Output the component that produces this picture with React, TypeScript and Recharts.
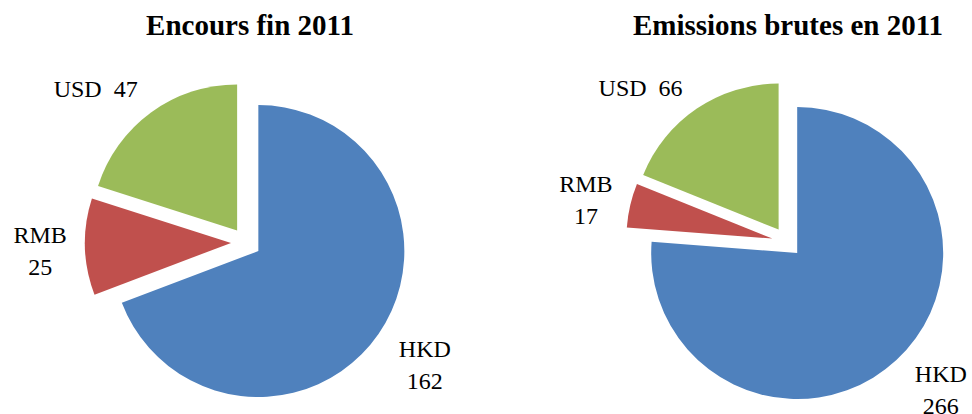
import { PieChart, Pie, Cell, Sector } from "recharts";

const CATEGORIES = ["HKD", "RMB", "USD"];
const ENCOURS_2011 = [162, 25, 47];
const EMISSIONS_2011 = [266, 17, 66];
const TITLES = ["Encours fin 2011", "Emissions brutes en 2011"];

const COLORS = ["#4f81bd", "#c0504d", "#9bbb59"];
// every slice is pulled out of the pie by the same amount (px)
const EXPLODE = 15;
const RADIAN = Math.PI / 180;
const SERIF = "'Liberation Serif', 'Times New Roman', serif";
const labelStyle = { fontFamily: SERIF, fontSize: 24, fill: "#000" };

// label placement: distance from pie centre, angle nudge, wrap onto 2 lines
type LabelPos = { dist: number; nudge: number; wrap: boolean };
const LEFT_LABELS: Record<string, LabelPos> = {
  HKD: { dist: 217, nudge: 0.1, wrap: true },
  RMB: { dist: 206, nudge: 0.8, wrap: true },
  USD: { dist: 215, nudge: 8.2, wrap: false },
};
const RIGHT_LABELS: Record<string, LabelPos> = {
  HKD: { dist: 213.5, nudge: 3.3, wrap: true },
  RMB: { dist: 205.5, nudge: 1.3, wrap: true },
  USD: { dist: 212.5, nudge: 9.5, wrap: false },
};

const encoursData = CATEGORIES.map((name, i) => ({ name, value: ENCOURS_2011[i] }));
const emissionsData = CATEGORIES.map((name, i) => ({ name, value: EMISSIONS_2011[i] }));

function ExplodedSlice(props: any) {
  const dx = EXPLODE * Math.cos(-props.midAngle * RADIAN);
  const dy = EXPLODE * Math.sin(-props.midAngle * RADIAN);
  return (
    <Sector
      cx={props.cx + dx}
      cy={props.cy + dy}
      innerRadius={props.innerRadius}
      outerRadius={props.outerRadius}
      startAngle={props.startAngle}
      endAngle={props.endAngle}
      fill={props.fill}
      stroke="none"
    />
  );
}

function makeLabel(layout: Record<string, LabelPos>, cx0: number, cy0: number) {
  return (p: any) => {
    const name = p.name ?? p.payload?.name;
    const l = layout[name];
    const cx = p.cx ?? cx0;
    const cy = p.cy ?? cy0;
    const a = (p.midAngle + l.nudge) * RADIAN;
    const x = cx + l.dist * Math.cos(a);
    const y = cy - l.dist * Math.sin(a);
    if (l.wrap) {
      return (
        <text x={x} y={y} textAnchor="middle" style={labelStyle}>
          <tspan x={x} y={y - 8} style={labelStyle}>{name}</tspan>
          <tspan x={x} y={y + 24} style={labelStyle}>{p.value}</tspan>
        </text>
      );
    }
    return (
      <text x={x} y={y + 8.5} textAnchor="middle" style={labelStyle}>
        {`${name}\u00a0\u00a0${p.value}`}
      </text>
    );
  };
}

export default function App() {
  return (
    <div style={{ position: "absolute", left: 0, top: 0, width: 972, height: 414, background: "#fff" }}>
      <PieChart width={972} height={414} margin={{ top: 0, right: 0, bottom: 0, left: 0 }}>
        <text x={250} y={35} textAnchor="middle" style={{ fontFamily: SERIF, fontWeight: "bold", fontSize: 29, fill: "#000" }}>
          {TITLES[0]}
        </text>
        <text x={788} y={35} textAnchor="middle" style={{ fontFamily: SERIF, fontWeight: "bold", fontSize: 29, fill: "#000" }}>
          {TITLES[1]}
        </text>
        <Pie
          data={encoursData}
          dataKey="value"
          nameKey="name"
          cx={246}
          cy={242.5}
          outerRadius={146}
          startAngle={90}
          endAngle={-270}
          stroke="none"
          shape={ExplodedSlice}
          label={makeLabel(LEFT_LABELS, 246, 242.5)}
          labelLine={false}
          isAnimationActive={false}
        >
          {encoursData.map((_, i) => (
            <Cell key={i} fill={COLORS[i % COLORS.length]} />
          ))}
        </Pie>
        <Pie
          data={emissionsData}
          dataKey="value"
          nameKey="name"
          cx={787}
          cy={242}
          outerRadius={146}
          startAngle={90}
          endAngle={-270}
          stroke="none"
          shape={ExplodedSlice}
          label={makeLabel(RIGHT_LABELS, 787, 242)}
          labelLine={false}
          isAnimationActive={false}
        >
          {emissionsData.map((_, i) => (
            <Cell key={i} fill={COLORS[i % COLORS.length]} />
          ))}
        </Pie>
      </PieChart>
    </div>
  );
}
